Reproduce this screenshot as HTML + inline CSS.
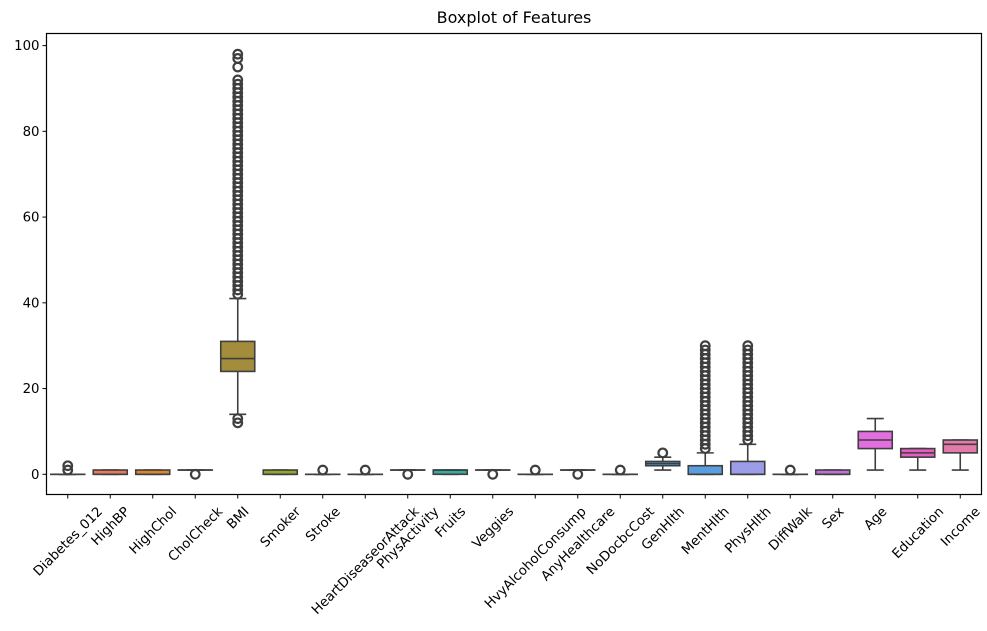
<!DOCTYPE html>
<html><head><meta charset="utf-8"><style>
html,body{margin:0;padding:0;background:#fff;}
svg{display:block;font-family:"DejaVu Sans","Liberation Sans",sans-serif;}
</style></head><body>
<svg id="chart" width="987" height="631">
<text x="514" y="23" text-anchor="middle" font-size="16">Boxplot of Features</text>
<g id="marks"></g>
<rect x="46.5" y="33.5" width="935" height="461" fill="none" stroke="#000" stroke-width="1.2"/>
</svg>
<script>
const categories=["Diabetes_012","HighBP","HighChol","CholCheck","BMI","Smoker","Stroke","HeartDiseaseorAttack","PhysActivity","Fruits","Veggies","HvyAlcoholConsump","AnyHealthcare","NoDocbcCost","GenHlth","MentHlth","PhysHlth","DiffWalk","Sex","Age","Education","Income"];
const q1Values=[0,0,0,1,24,0,0,0,1,0,1,0,1,0,2,0,0,0,0,6,4,5];
const medianValues=[0,0,0,1,27,0,0,0,1,1,1,0,1,0,2.5,0,0,0,0,8,5,7];
const q3Values=[0,1,1,1,31,1,0,0,1,1,1,0,1,0,3,2,3,0,1,10,6,8];
const whiskerLow=[0,0,0,1,14,0,0,0,1,0,1,0,1,0,1,0,0,0,0,1,1,1];
const whiskerHigh=[0,1,1,1,41,1,0,0,1,1,1,0,1,0,4,5,7,0,1,13,6,8];
const bmiOutliers=[12,13,42,43,44,45,46,47,48,49,50,51,52,53,54,55,56,57,58,59,60,61,62,63,64,65,66,67,68,69,70,71,72,73,74,75,76,77,78,79,80,81,82,83,84,85,86,87,88,89,90,91,92,95,97,98];
const mentOutliers=[6,7,8,9,10,11,12,13,14,15,16,17,18,19,20,21,22,23,24,25,26,27,28,29,30];
const physOutliers=[8,9,10,11,12,13,14,15,16,17,18,19,20,21,22,23,24,25,26,27,28,29,30];
const outliers=[[1,2],[],[],[0],bmiOutliers,[],[1],[1],[0],[],[0],[1],[0],[1],[5],mentOutliers,physOutliers,[1],[],[],[],[]];
const colors=["#f77189","#e8795a","#d98631","#c19434","#a38c3c","#97a431","#6fa832","#32b166","#34ae8d","#36ab9e","#38aaac","#39a7bb","#3ba3cc","#40a0e0","#4aa0d8","#5b9ee0","#9c9ce8","#c283e8","#c26ed8","#e36ee0","#e55fc0","#e47aa8"];
const L=46.5,R=981.5,T=33.5,B=494.5;
const y=v=>474.3-v*4.287;
const bw=(R-L)/categories.length;
const x=i=>L+bw*(i+0.5);
const NS="http://www.w3.org/2000/svg";
const g=document.getElementById("marks");
const svg=document.getElementById("chart");
function el(tag,attrs,parent){const e=document.createElementNS(NS,tag);for(const k in attrs)e.setAttribute(k,attrs[k]);(parent||g).appendChild(e);return e;}
const st="#3f3f3f";
[0,20,40,60,80,100].forEach(v=>{
 const t=el("line",{x1:L-4,x2:L,y1:y(v),y2:y(v),stroke:"#000","stroke-width":1},svg);
 
 
 const tx=el("text",{x:L-7,y:y(v)+4.5,"text-anchor":"end","font-size":13.3},svg);
 tx.textContent=v;
 
 
});
categories.forEach((c,i)=>{
 const cx=x(i),hw=bw*0.4,cap=bw*0.2;
 const grp=el("g",{});
 
 
 el("line",{x1:cx,x2:cx,y1:y(whiskerLow[i]),y2:y(q1Values[i]),stroke:st,"stroke-width":1.6},grp);
 el("line",{x1:cx,x2:cx,y1:y(q3Values[i]),y2:y(whiskerHigh[i]),stroke:st,"stroke-width":1.6},grp);
 el("line",{x1:cx-cap,x2:cx+cap,y1:y(whiskerLow[i]),y2:y(whiskerLow[i]),stroke:st,"stroke-width":1.6},grp);
 el("line",{x1:cx-cap,x2:cx+cap,y1:y(whiskerHigh[i]),y2:y(whiskerHigh[i]),stroke:st,"stroke-width":1.6},grp);
 const h=Math.max(y(q1Values[i])-y(q3Values[i]),0.01);
 el("rect",{x:cx-hw,y:y(q3Values[i]),width:hw*2,height:h,fill:colors[i],stroke:st,"stroke-width":1.6},grp);
 el("line",{x1:cx-hw,x2:cx+hw,y1:y(medianValues[i]),y2:y(medianValues[i]),stroke:st,"stroke-width":1.6},grp);
 outliers[i].forEach(v=>{
  const o=el("circle",{cx:cx,cy:y(v),r:4.3,fill:"none",stroke:st,"stroke-width":2.2},grp);
  
  
 });
 const tk=el("line",{x1:cx,x2:cx,y1:B,y2:B+4,stroke:"#000","stroke-width":1},svg);
 
 
 const lb=el("text",{"font-size":13.3,"text-anchor":"middle"},svg);
 lb.textContent=c;
 
 
 const len=lb.getComputedTextLength();
 const cy=B+10+(len+13)*0.7071/2;
 lb.setAttribute("transform","translate("+cx+","+cy+") rotate(-45)");
 lb.setAttribute("y",4.5);
});
</script>
</body></html>
